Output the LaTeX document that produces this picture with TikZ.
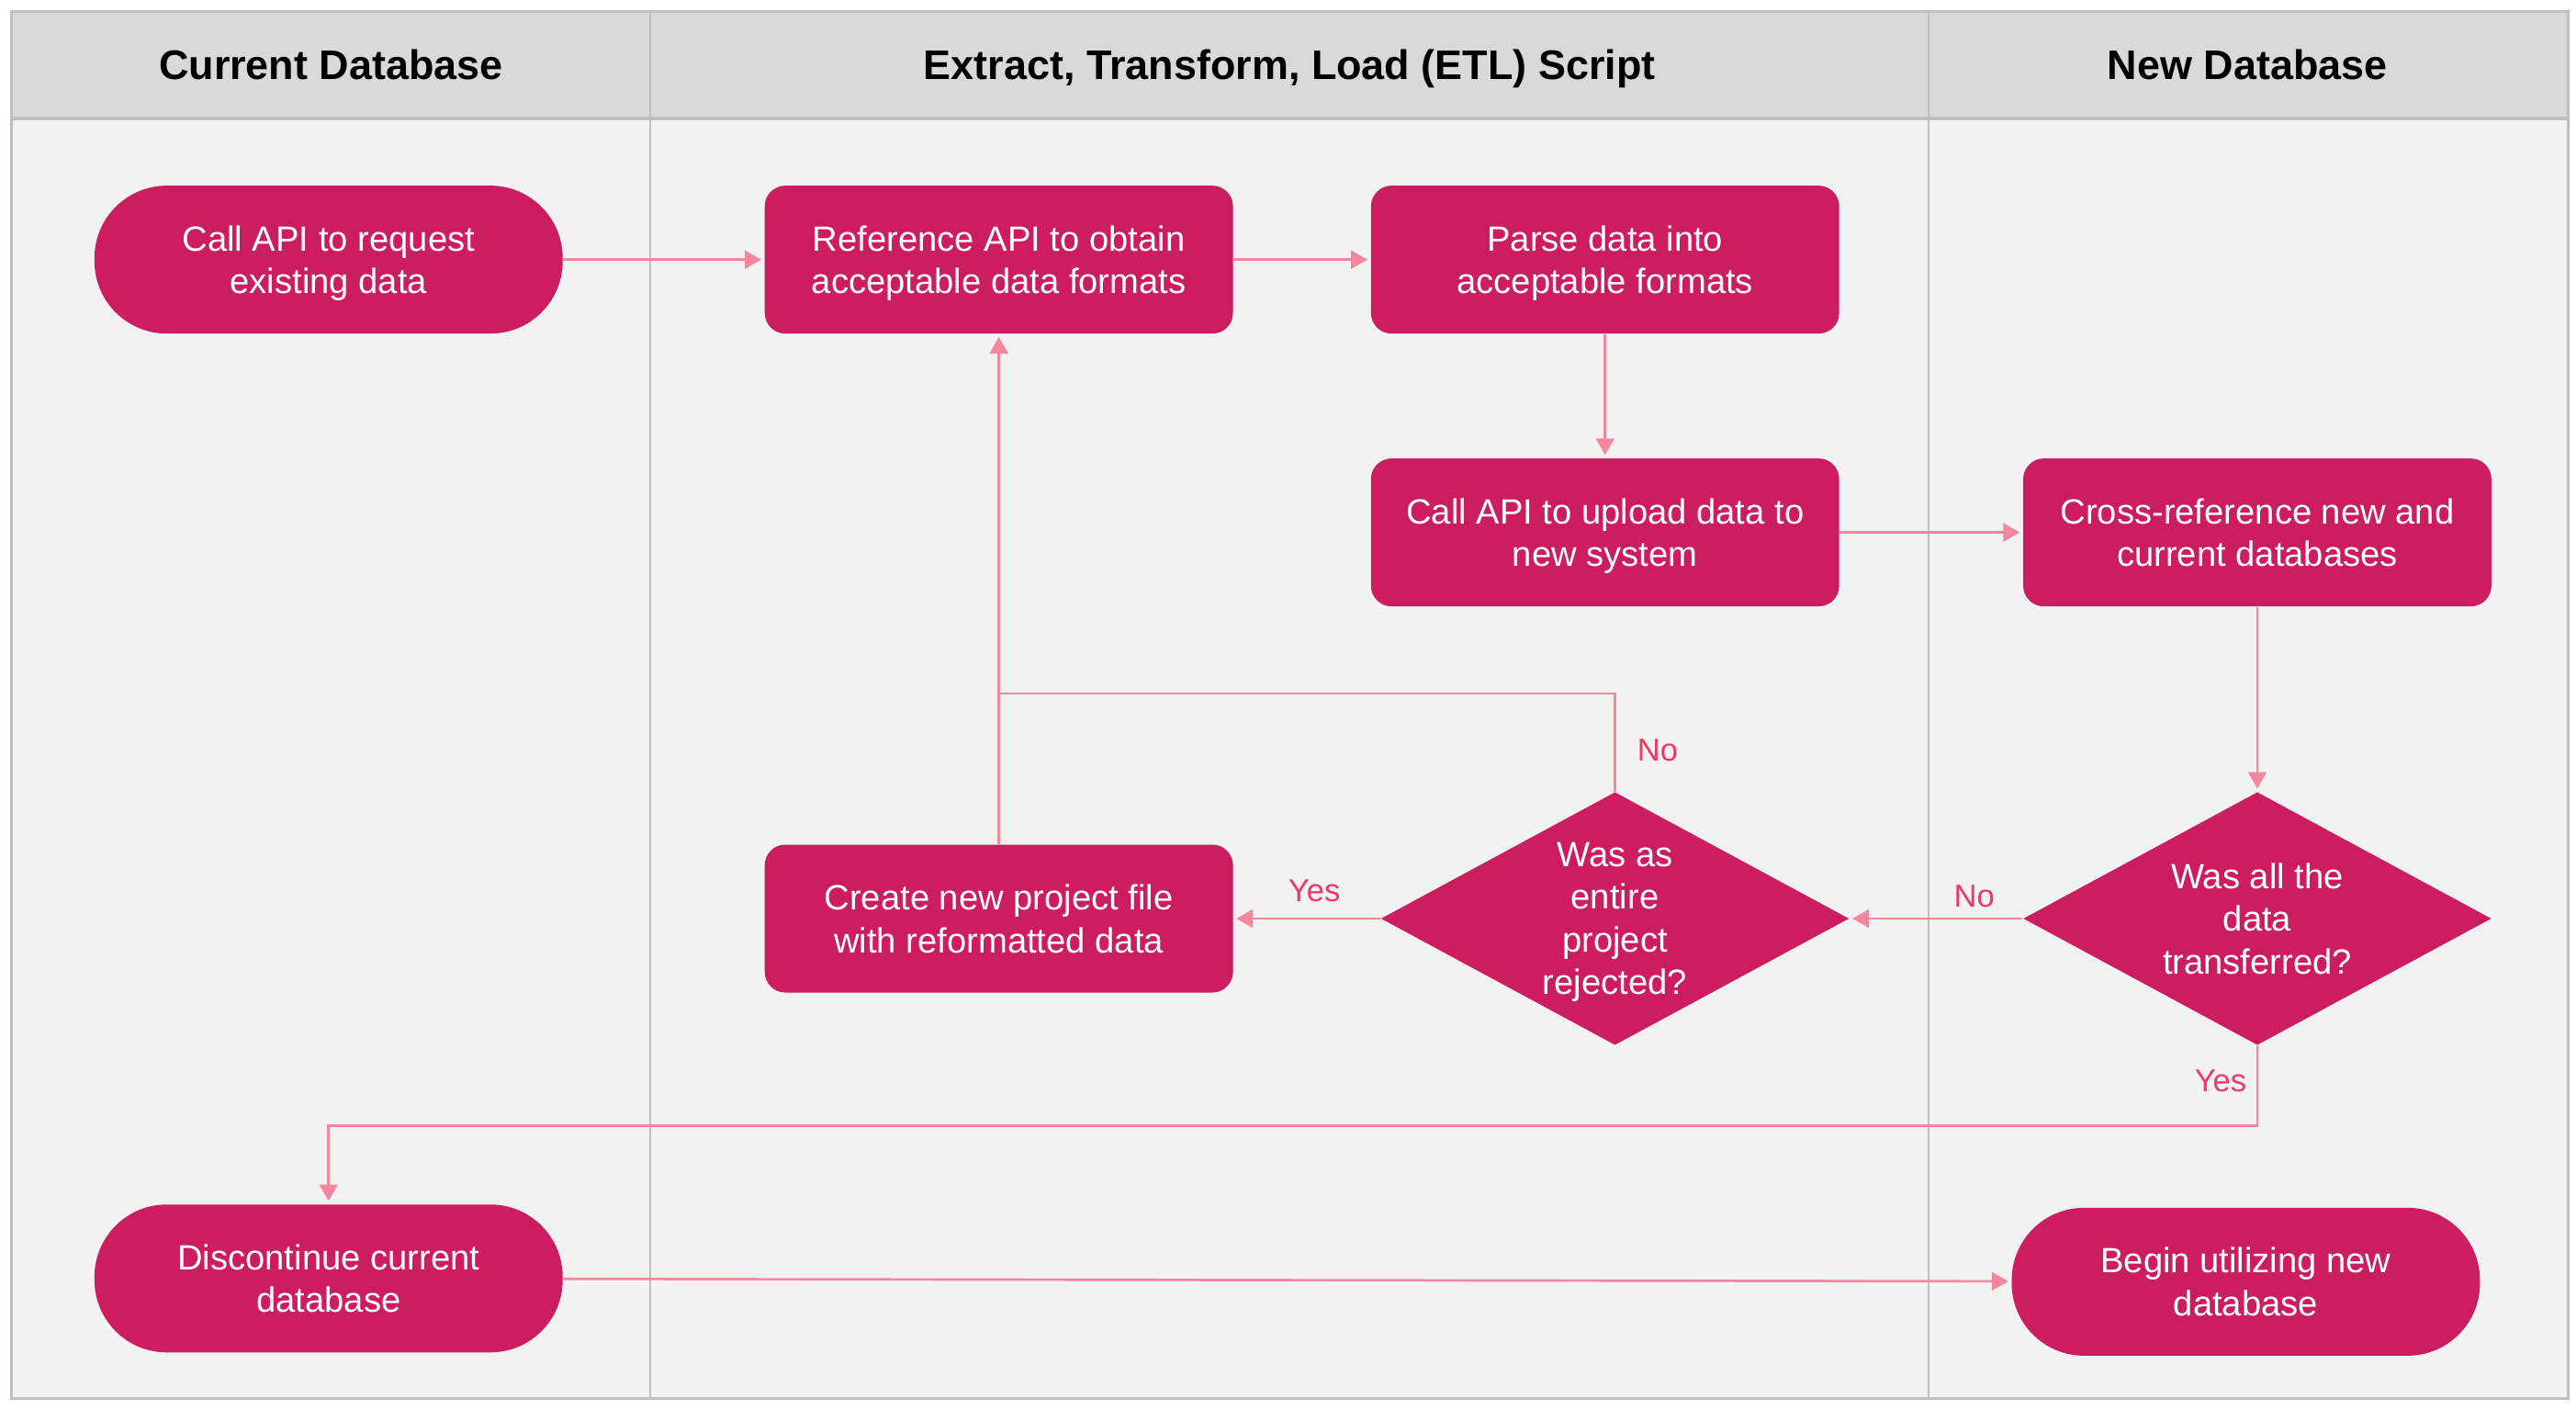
\documentclass[tikz,border=0pt]{standalone}
\usepackage{fontspec}
\setmainfont{Liberation Sans}
\usetikzlibrary{arrows.meta,shapes.geometric}

\definecolor{nodefill}{HTML}{CB1D60}
\definecolor{flowpink}{HTML}{F4869F}
\definecolor{answerpink}{HTML}{EE3A6B}
\definecolor{lanegrey}{HTML}{F2F2F2}
\definecolor{headgrey}{HTML}{D9D9D9}
\definecolor{rulegrey}{HTML}{BFBFBF}

\tikzset{
  lanehead/.style={font=\bfseries\fontsize{14.3}{17}\selectfont,
    text height=10.4pt, text depth=0pt},
  stepbox/.style={rectangle, rounded corners=0.25cm, fill=nodefill, text=white,
    minimum width=5.7cm, minimum height=1.8cm, inner sep=0, align=center,
    text depth=0pt, font=\fontsize{12.15}{14.8}\selectfont},
  terminal/.style={stepbox, rounded corners=0.88cm},
  decision/.style={diamond, fill=nodefill, text=white, shape aspect=1.85,
    minimum width=5.7cm, minimum height=3.08cm, inner sep=0, align=center,
    text depth=0pt, font=\fontsize{12.15}{14.8}\selectfont},
  flowline/.style={draw=flowpink, line width=0.85pt},
  flow/.style={flowline, -{Triangle[width=0.22cm,length=0.2cm]}, shorten >=1pt},
  answer/.style={text=answerpink, font=\fontsize{11}{13}\selectfont}
}

\begin{document}
\begin{tikzpicture}

\def\width{31.36}
\def\height{17.16}

\path [use as bounding box] (0,0) rectangle (\width,\height);

% LANES
\fill [lanegrey] (0.14,0.14) rectangle (31.26,15.72);
\fill [headgrey] (0.14,15.72) rectangle (31.26,17.02);
\draw [rulegrey, line width=0.6pt] (7.92,0.14) -- (7.92,17.02);
\draw [rulegrey, line width=0.6pt] (23.48,0.14) -- (23.48,17.02);
\draw [rulegrey, line width=1.3pt] (0.14,15.72) -- (31.26,15.72);
\draw [rulegrey, line width=1pt] (0.14,0.14) rectangle (31.26,17.02);

\node [lanehead] (hcurrent) at (4.03,16.38) {Current Database};
\node [lanehead] (hetl) at (15.7,16.38) {Extract, Transform, Load (ETL) Script};
\node [lanehead] (hnew) at (27.36,16.38) {New Database};

% STEPS
\node [terminal] (call) at (4.0,14.0) {Call API to request\\existing data};
\node [stepbox] (refer) at (12.16,14.0) {Reference API to obtain\\acceptable data formats};
\node [stepbox] (parse) at (19.54,14.0) {Parse data into\\acceptable formats};
\node [stepbox] (upload) at (19.54,10.68) {Call API to upload data to\\new system};
\node [stepbox] (cross) at (27.48,10.68) {Cross-reference new and\\current databases};
\node [decision] (alldata) at (27.48,5.98) {Was all the\\data\\transferred?};
\node [decision] (rejected) at (19.66,5.98) {Was as\\entire\\project\\rejected?};
\node [stepbox] (newfile) at (12.16,5.98) {Create new project file\\with reformatted data};
\node [terminal] (discont) at (4.0,1.6) {Discontinue current\\database};
\node [terminal] (utilize) at (27.34,1.56) {Begin utilizing new\\database};

\coordinate (join) at (12.16,8.72);
\coordinate (yesbend) at (4.0,3.46);

% FLOW
\draw [flow] (call) -- (refer);
\draw [flow] (refer) -- (parse);
\draw [flow] (parse) -- (upload);
\draw [flow] (upload) -- (cross);
\draw [flow] (cross) -- (alldata);
\draw [flow] (alldata) -- node [answer, above, pos=0.28] {No} (rejected);
\draw [flow] (rejected) -- node [answer, above=2pt, pos=0.45] {Yes} (newfile);
\draw [flowline] (rejected) |- node [answer, right=4pt, pos=0.21] {No} (join);
\draw [flowline] (newfile) -- (join);
\draw [flow] (join) -- (refer);
\draw [flow] (alldata) |- node [answer, left, pos=0.22] {Yes} (yesbend) -- (discont);
\draw [flow] (discont) -- (utilize);

\end{tikzpicture}
\end{document}
